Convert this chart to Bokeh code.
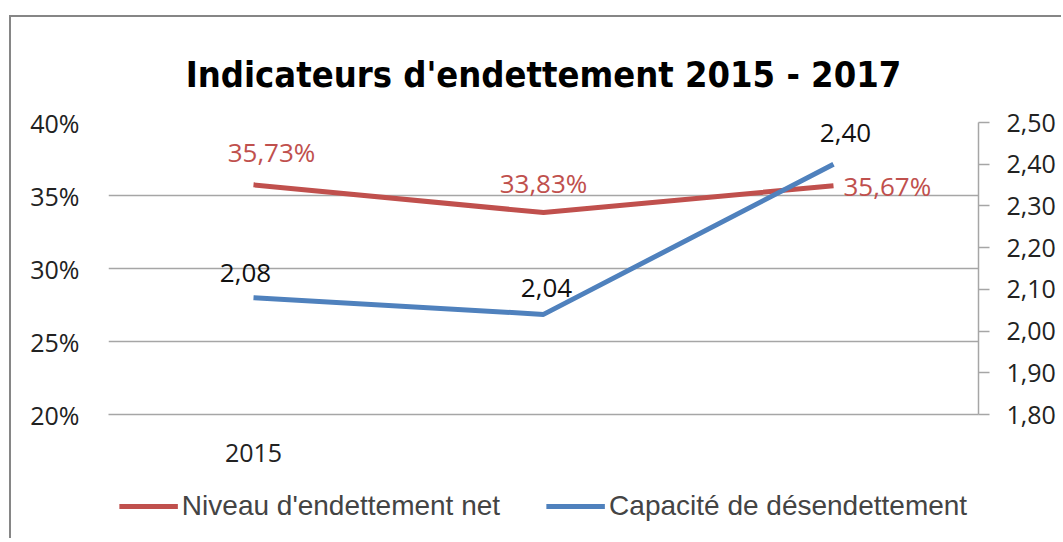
from bokeh.plotting import figure
from bokeh.models import (Range1d, LinearAxis, FixedTicker, CustomJSTickFormatter,
                          Legend, LegendItem, LabelSet, ColumnDataSource)
from bokeh.layouts import column
from bokeh.core.properties import value
from bokeh.embed import file_html
from bokeh.resources import INLINE

years = ["2015", "2016", "2017"]
niveau = [35.73, 33.83, 35.67]          # %
capacite = [2.08, 2.04, 2.40]           # ratio
niveau_labels = ["35,73%", "33,83%", "35,67%"]
capacite_labels = ["2,08", "2,04", "2,40"]
left_ticks = [20, 25, 30, 35, 40]
right_ticks = [1.8, 1.9, 2.0, 2.1, 2.2, 2.3, 2.4, 2.5]

RED = "#c0504d"
BLUE = "#4f81bd"
GRID = "#a6a6a6"
TFONT = "DejaVu Sans Condensed, Liberation Sans"
NFONT = "Open Sans"
FS = "25px"
LS = "26px"

xs = [i + 0.5 for i in range(len(years))]   # category centres

p = figure(width=1050, height=457,
           x_range=Range1d(0, len(years)), y_range=Range1d(20, 40),
           output_backend="svg", toolbar_location=None,
           min_border_left=97, min_border_right=83, min_border_top=105, min_border_bottom=60)
p.outline_line_color = None

p.title.text = "Indicateurs d'endettement 2015 - 2017"
p.title.align = "center"
p.title.text_font = TFONT
p.title.text_font_style = "bold"
p.title.text_font_size = "36px"
p.title.text_color = "#000000"
p.title.standoff = 56

p.extra_y_ranges = {"cap": Range1d(1.8, 2.5)}

# left axis
p.yaxis.ticker = FixedTicker(ticks=left_ticks)
p.yaxis.formatter = CustomJSTickFormatter(code="return tick.toFixed(0) + '%';")
p.yaxis.axis_line_color = None
p.yaxis.major_tick_line_color = None
p.yaxis.minor_tick_line_color = None
p.yaxis.major_label_text_font = NFONT
p.yaxis.major_label_text_font_size = FS
p.yaxis.major_label_text_color = "#222222"
p.yaxis.major_label_standoff = 23

# right axis
ra = LinearAxis(y_range_name="cap", ticker=FixedTicker(ticks=right_ticks),
                formatter=CustomJSTickFormatter(code="return tick.toFixed(2).replace('.', ',');"))
ra.axis_line_color = GRID
ra.axis_line_width = 1.5
ra.major_tick_line_color = GRID
ra.major_tick_line_width = 1.5
ra.major_tick_out = 11
ra.major_tick_in = 0
ra.minor_tick_line_color = None
ra.major_label_text_font = NFONT
ra.major_label_text_font_size = FS
ra.major_label_text_color = "#222222"
ra.major_label_standoff = 17
p.add_layout(ra, "right")

# x axis: only the first year is labelled
p.xaxis.ticker = FixedTicker(ticks=xs[:1])
p.xaxis.formatter = CustomJSTickFormatter(args=dict(years=years),
                                          code="return years[Math.floor(tick)];")
p.xaxis.axis_line_color = GRID
p.xaxis.axis_line_width = 1.5
p.xaxis.major_tick_line_color = None
p.xaxis.minor_tick_line_color = None
p.xaxis.major_label_text_font = NFONT
p.xaxis.major_label_text_font_size = FS
p.xaxis.major_label_text_color = "#222222"
p.xaxis.major_label_standoff = 23

p.xgrid.grid_line_color = None
p.ygrid.grid_line_color = GRID
p.ygrid.grid_line_width = 1.5

p.line(xs, niveau, line_color=RED, line_width=5)
p.line(xs, capacite, line_color=BLUE, line_width=5, y_range_name="cap")

src_n = ColumnDataSource(dict(x=xs, y=niveau, t=niveau_labels,
                              dx=[18, 0, 10], dy=[33, 30, 0], al=["center", "center", "left"]))
src_c = ColumnDataSource(dict(x=xs, y=capacite, t=capacite_labels,
                              dx=[-8, 3, 12], dy=[25, 26, 31]))
p.add_layout(LabelSet(x="x", y="y", text="t", source=src_n, x_offset="dx", y_offset="dy",
                      text_align="al", text_baseline="middle", text_color=RED,
                      text_font=value(NFONT), text_font_size=LS))
p.add_layout(LabelSet(x="x", y="y", text="t", source=src_c, x_offset="dx", y_offset="dy",
                      text_align="center", text_baseline="middle", text_color="#111111",
                      text_font=value(NFONT), text_font_size=LS, y_range_name="cap"))

# legend strip below the chart (same series, drawn outside its own view)
lg = figure(width=1050, height=64, x_range=Range1d(0, len(years)), y_range=Range1d(100, 101),
            output_backend="svg", toolbar_location=None,
            min_border_left=16, min_border_right=0, min_border_top=0, min_border_bottom=0)
lg.axis.visible = False
lg.grid.visible = False
lg.outline_line_color = None
l1 = lg.line(xs, niveau, line_color=RED, line_width=5)
l2 = lg.line(xs, capacite, line_color=BLUE, line_width=5)
legend = Legend(items=[LegendItem(label="Niveau d'endettement net", renderers=[l1]),
                       LegendItem(label="Capacité de désendettement", renderers=[l2])],
                orientation="horizontal", location="center",
                label_text_font="Liberation Sans", label_text_font_size="28px",
                glyph_width=59, label_standoff=4, spacing=46,
                border_line_color=None, background_fill_alpha=0, padding=0, margin=0)
lg.add_layout(legend)

layout = column(p, lg, styles={"margin-left": "9px", "margin-top": "15px",
                               "border-top": "2px solid #868686",
                               "border-left": "2px solid #868686"})

open("out.html", "w").write(file_html(layout, INLINE))
